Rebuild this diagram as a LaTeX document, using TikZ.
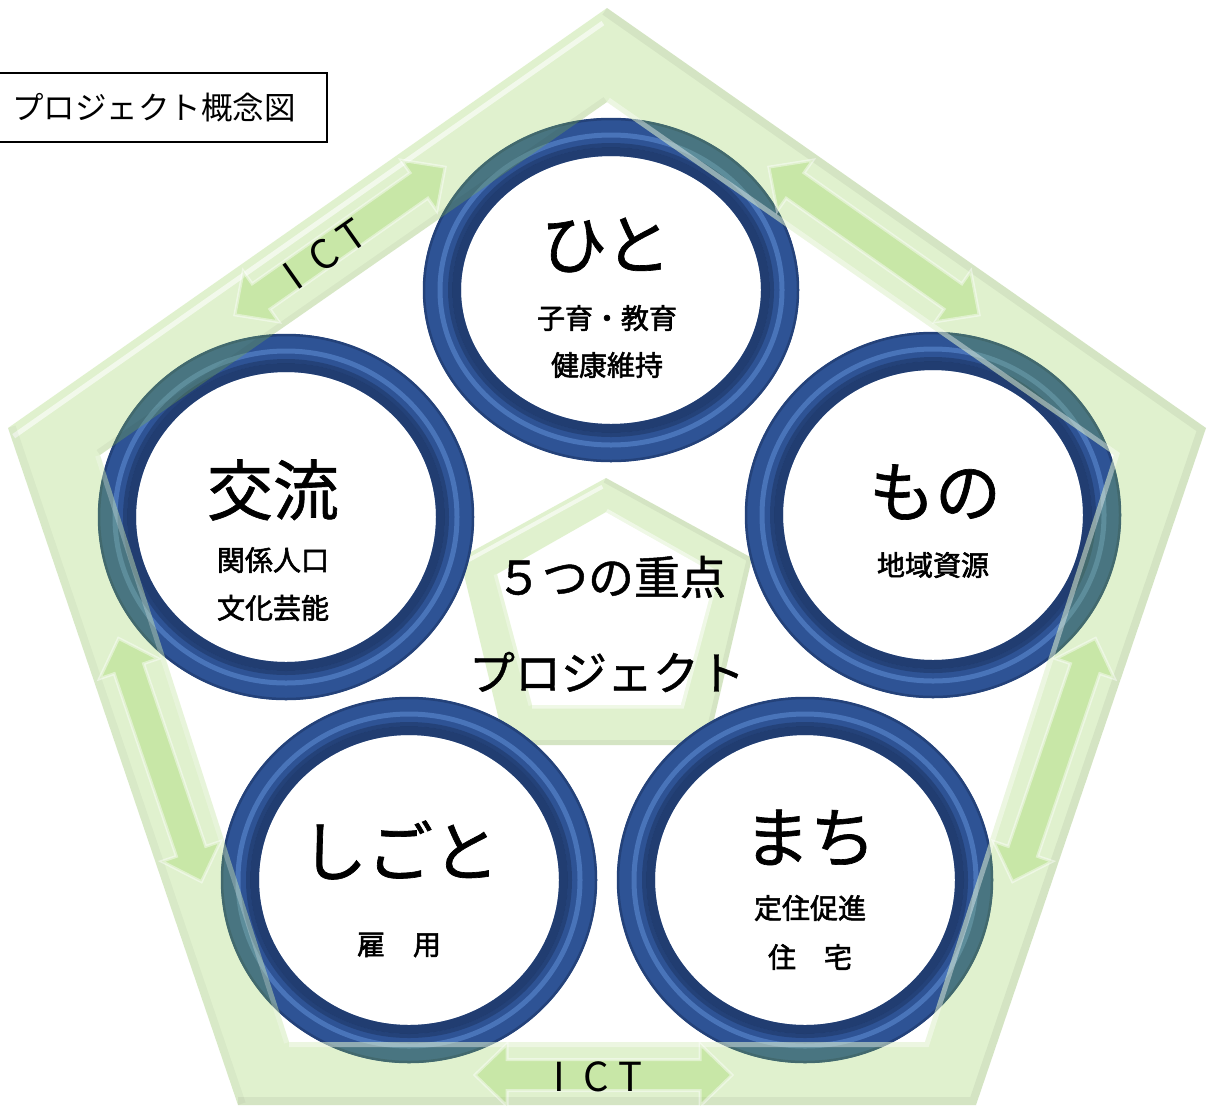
\documentclass[tikz,border=0pt]{standalone}
\usepackage{fontspec}
\setmainfont{Noto Sans CJK JP}
\newfontfamily\jpsemi[FakeBold=1]{Noto Sans CJK JP}
\newfontfamily\jpbold[FakeBold=2]{Noto Sans CJK JP}
\usetikzlibrary{calc}
\definecolor{bandgreen}{HTML}{92D050}
\definecolor{ringedge}{HTML}{24427A}
\definecolor{ringbase}{HTML}{2E5395}
\definecolor{ringdark}{HTML}{1B325F}
\definecolor{ringhi}{HTML}{5C8AD2}
\newcommand\jfs[1]{\fontsize{#1}{#1}\selectfont}
\tikzset{
  bandfill/.style={fill=bandgreen, fill opacity=0.28, even odd rule},
  dblarr/.style={fill=bandgreen, fill opacity=0.3, draw=white, draw opacity=0.45, line width=3pt, line join=miter},
  bigtxt/.style={font=\jpsemi\jfs{66}, inner sep=0pt},
  smalltxt/.style={font=\jpbold\jfs{28}, inner sep=0pt},
  midtxt/.style={font=\jpsemi\jfs{46}, inner sep=0pt},
  icttxt/.style={font=\jfs{40}, inner sep=0pt},
  hilite/.style={white, line width=5pt, opacity=0.6},
  shade/.style={black, line width=16pt, opacity=0.05},
  innerhl/.style={white, line width=10pt, opacity=0.5},
}
\newcommand\myring[5]{%
  \coordinate (#1) at (#2,#3);
  \fill[white] (#1) ellipse [x radius=#4pt, y radius=#5pt];
  \draw[line width=38pt, ringbase] (#1) ellipse [x radius=#4pt, y radius=#5pt];
  \draw[line width=2.5pt, ringedge] (#1) ellipse [x radius=#4pt+18pt, y radius=#5pt+18pt];
  \draw[line width=9pt, ringdark, opacity=0.65] (#1) ellipse [x radius=#4pt-14.5pt, y radius=#5pt-14.5pt];
  \draw[line width=4pt, ringdark, opacity=0.5] (#1) ellipse [x radius=#4pt-8pt, y radius=#5pt-8pt];
  \draw[line width=5pt, ringhi, opacity=0.6] (#1) ellipse [x radius=#4pt+2pt, y radius=#5pt+2pt];
}
\newcommand\dblarrow[4]{%
  \begin{scope}[shift={(#2,#3)}, rotate=#4]
    \coordinate (#1) at (0,0);
    \path[dblarr] (-128.5,0) -- (-96.5,31) -- (-96.5,15.5) -- (96.5,15.5) -- (96.5,31) -- (128.5,0)
      -- (96.5,-31) -- (96.5,-15.5) -- (-96.5,-15.5) -- (-96.5,-31) -- cycle;
  \end{scope}}
\begin{document}
\begin{tikzpicture}[x=1pt, y=-1pt]
\useasboundingbox (0,0) rectangle (1214,1106);
\fill[white] (0,0) rectangle (1214,1106);
% ---------- small central pentagon ----------
\coordinate (sT) at (606,478); \coordinate (sR) at (752,558); \coordinate (sBR) at (708,745);
\coordinate (sBL) at (505,745); \coordinate (sL) at (460,558);
\coordinate (tT) at (606,512); \coordinate (tR) at (716,574); \coordinate (tBR) at (681,705);
\coordinate (tBL) at (532,705); \coordinate (tL) at (497,574);
\fill[bandfill] (sT)--(sR)--(sBR)--(sBL)--(sL)--cycle (tT)--(tR)--(tBR)--(tBL)--(tL)--cycle;
\begin{scope}[even odd rule]
  \clip (sT)--(sR)--(sBR)--(sBL)--(sL)--cycle (tT)--(tR)--(tBR)--(tBL)--(tL)--cycle;
  \draw[hilite, line width=4pt] ($(sL)+(3.4,4.9)$) -- ($(sT)!8pt!(sL)+(3.4,4.9)$);
  \draw[shade, line width=10pt] (sT)--(sR)--(sBR)--(sBL);
  \draw[innerhl, line width=7pt] (tT)--(tR)--(tBR)--(tBL);
  \draw[innerhl, line width=7pt, opacity=0.3] (tBL)--(tL);
\end{scope}
% ---------- rings ----------
\myring{hito}{611}{290}{169}{153}
\myring{kouryu}{286}{517}{169}{164}
\myring{mono}{933}{515}{169}{164}
\myring{shigoto}{409}{880}{169}{164}
\myring{machi}{805}{880}{169}{164}
% ---------- big pentagon band ----------
\coordinate (oT) at (607,8); \coordinate (oR) at (1206,428); \coordinate (oBR) at (976,1105);
\coordinate (oBL) at (238,1105); \coordinate (oL) at (8,428);
\coordinate (iT) at (607,102); \coordinate (iR) at (1114,455); \coordinate (iBR) at (925,1042);
\coordinate (iBL) at (289,1042); \coordinate (iL) at (100,455);
\fill[bandfill] (oT)--(oR)--(oBR)--(oBL)--(oL)--cycle (iT)--(iR)--(iBR)--(iBL)--(iL)--cycle;
\begin{scope}[even odd rule]
  \clip (oT)--(oR)--(oBR)--(oBL)--(oL)--cycle (iT)--(iR)--(iBR)--(iBL)--(iL)--cycle;
  \draw[hilite] ($(oL)+(5.7,8.2)$) -- ($(oT)!12pt!(oL)+(5.7,8.2)$);
  \draw[shade] (oT)--(oR)--(oBR)--(oBL);
  \draw[shade, opacity=0.03] (oBL)--(oL);
  \draw[innerhl, opacity=0.4] (iT)--(iR)--(iBR)--(iBL);
  \draw[innerhl, opacity=0.25] (iBL)--(iL);
  \draw[black, line width=12pt, opacity=0.04] (iL)--(iT);
\end{scope}
% ---------- ICT arrows ----------
\dblarrow{arrTL}{340}{241}{35.1}
\dblarrow{arrTR}{874}{241}{-35.1}
\dblarrow{arrL}{160}{760}{-71.2}
\dblarrow{arrR}{1054}{760}{71.2}
\dblarrow{arrB}{603.5}{1075}{0}
\node[icttxt, rotate=35.1] (ictTL) at (325,254) {I\hspace{18pt}C\hspace{10pt}T};
\node[icttxt] (ictB) at (598,1077) {I\hspace{18pt}C\hspace{10pt}T};
% ---------- texts ----------
\node[bigtxt] (hitoT) at (606,245) {ひと};
\node[smalltxt] (hitoA) at (607,318) {子育・教育};
\node[smalltxt] (hitoB) at (607,365) {健康維持};
\node[bigtxt] (kouryuT) at (273,490) {交流};
\node[smalltxt] (kouryuA) at (273,560) {関係人口};
\node[smalltxt] (kouryuB) at (273,608) {文化芸能};
\node[bigtxt] (monoT) at (935,492) {もの};
\node[smalltxt] (monoA) at (933,565) {地域資源};
\node[bigtxt] (shigotoT) at (400,850) {しごと};
\node[smalltxt] (shigotoA) at (399,945) {雇　用};
\node[bigtxt] (machiT) at (810,838) {まち};
\node[smalltxt] (machiA) at (810,908) {定住促進};
\node[smalltxt] (machiB) at (810,957) {住　宅};
\node[midtxt] (centerA) at (611,577) {５つの重点};
\node[midtxt] (centerB) at (607,672) {プロジェクト};
% ---------- title ----------
\node[draw=black, line width=1.5pt, fill=white, minimum width=329pt, minimum height=69pt, inner sep=0pt] (titlebox) at (162.5,107.5) {};
\node[font=\jfs{31.5}, inner sep=0pt, anchor=west] (title) at (12,108) {プロジェクト概念図};
\end{tikzpicture}
\end{document}
